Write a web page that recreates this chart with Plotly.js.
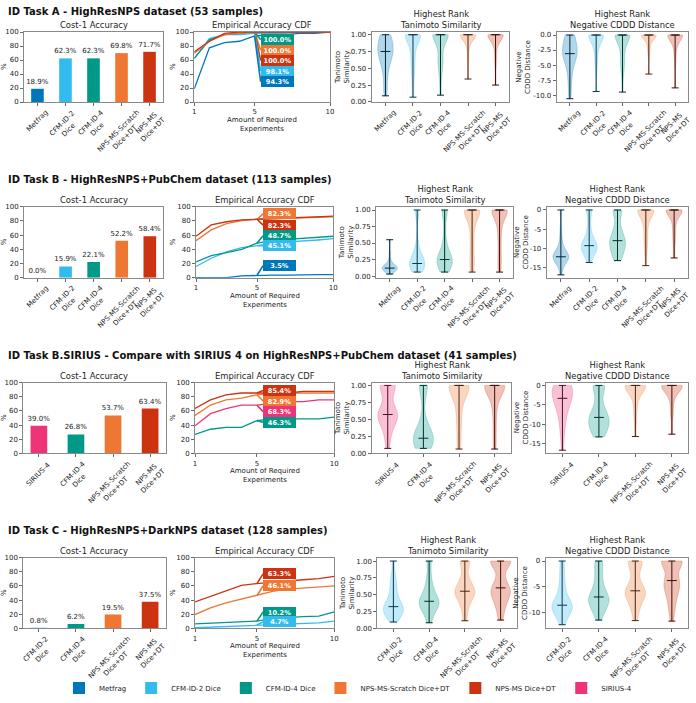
<!DOCTYPE html>
<html><head><meta charset="utf-8">
<script src="https://cdn.plot.ly/plotly-3.0.1.min.js"></script>
<style>html,body{margin:0;padding:0;background:#fff;}#chart{width:696px;height:703px;}</style>
</head><body><div id="chart"></div>
<script>
// ---------------- DATA ----------------
const methodNames = ['Metfrag','CFM-ID-2 Dice','CFM-ID-4 Dice','NPS-MS-Scratch Dice+DT','NPS-MS Dice+DT','SIRIUS-4'];
const methodTicks = ['Metfrag','CFM-ID-2<br>Dice','CFM-ID-4<br>Dice','NPS-MS-Scratch<br>Dice+DT','NPS-MS<br>Dice+DT','SIRIUS-4'];
const methodColors = ['#0077BB','#33BBEE','#009988','#EE7733','#CC3311','#EE3377'];

const titleA = 'ID Task A - HighResNPS dataset (53 samples)';
const titleB = 'ID Task B - HighResNPS+PubChem dataset (113 samples)';
const titleS = 'ID Task B.SIRIUS - Compare with SIRIUS 4 on HighResNPS+PubChem dataset (41 samples)';
const titleC = 'ID Task C - HighResNPS+DarkNPS dataset (128 samples)';
const sampleCounts = [53, 113, 41, 128];

const catsA = ['Metfrag','CFM-ID-2 Dice','CFM-ID-4 Dice','NPS-MS-Scratch Dice+DT','NPS-MS Dice+DT'];
const catsB = ['Metfrag','CFM-ID-2 Dice','CFM-ID-4 Dice','NPS-MS-Scratch Dice+DT','NPS-MS Dice+DT'];
const catsS = ['SIRIUS-4','CFM-ID-4 Dice','NPS-MS-Scratch Dice+DT','NPS-MS Dice+DT'];
const catsC = ['CFM-ID-2 Dice','CFM-ID-4 Dice','NPS-MS-Scratch Dice+DT','NPS-MS Dice+DT'];

// Cost-1 accuracy (%)
const accA = [18.9, 62.3, 62.3, 69.8, 71.7];
const accB = [0.0, 15.9, 22.1, 52.2, 58.4];
const accS = [39.0, 26.8, 53.7, 63.4];
const accC = [0.8, 6.2, 19.5, 37.5];

// Empirical accuracy CDF (%), amount of required experiments 1..10
const cdfSteps = [1,2,3,4,5,6,7,8,9,10];
const cdfA_Metfrag = [18.9, 77.4, 84.9, 86.8, 94.3, 96.2, 96.2, 98.1, 98.1, 100];
const cdfA_CFM2    = [62.3, 90.6, 96.2, 96.2, 98.1, 98.1, 98.1, 100, 100, 100];
const cdfA_CFM4    = [62.3, 88.7, 96.2, 98.1, 100, 100, 100, 100, 100, 100];
const cdfA_Scratch = [69.8, 86.8, 96.2, 98.1, 100, 100, 100, 100, 100, 100];
const cdfA_NPS     = [71.7, 86.8, 98.1, 100, 100, 100, 100, 100, 100, 100];

const cdfB_Metfrag = [0.0, 0.0, 0.0, 2.7, 3.5, 3.5, 3.5, 4.4, 4.4, 4.4];
const cdfB_CFM2    = [15.9, 27.4, 36.3, 42.5, 45.1, 48.7, 50.4, 51.3, 53.1, 54.9];
const cdfB_CFM4    = [22.1, 31.0, 35.4, 39.8, 48.7, 52.2, 54.0, 55.8, 57.5, 58.4];
const cdfB_Scratch = [52.2, 67.3, 76.1, 80.5, 82.3, 83.2, 83.2, 84.1, 85.0, 85.8];
const cdfB_NPS     = [58.4, 74.3, 78.8, 81.4, 82.3, 83.2, 84.1, 85.0, 85.8, 86.7];

const cdfS_SIRIUS  = [39.0, 56.1, 63.4, 68.3, 68.3, 70.7, 73.2, 73.2, 75.6, 75.6];
const cdfS_CFM4    = [26.8, 34.1, 36.6, 36.6, 46.3, 48.8, 48.8, 48.8, 48.8, 51.2];
const cdfS_Scratch = [53.7, 68.3, 75.6, 78.0, 82.9, 85.4, 85.4, 85.4, 85.4, 85.4];
const cdfS_NPS     = [63.4, 75.6, 82.9, 85.4, 85.4, 85.4, 85.4, 87.8, 87.8, 87.8];

const cdfC_CFM2    = [0.8, 1.6, 2.3, 3.9, 4.7, 5.5, 5.5, 6.2, 7.8, 10.2];
const cdfC_CFM4    = [6.2, 7.0, 7.8, 9.4, 10.2, 14.1, 15.6, 16.4, 17.2, 23.4];
const cdfC_Scratch = [19.5, 28.9, 35.9, 41.4, 46.1, 52.3, 55.5, 57.0, 58.6, 60.2];
const cdfC_NPS     = [37.5, 45.3, 53.9, 60.9, 63.3, 65.6, 67.2, 68.8, 70.3, 73.4];

// Highest-rank Tanimoto similarity (representative samples)
const tanA_Metfrag = [0.09,0.18,0.3,0.42,0.5,0.56,0.6,0.64,0.67,0.7,0.72,0.75,0.77,0.79,0.81,0.83,0.86,0.89,0.93,1,1,1,1];
const tanA_CFM2    = [0.07,0.3,0.45,0.55,0.62,0.7,0.8,1,1,1,1,1,1,1,1,1,1,1,1,1];
const tanA_CFM4    = [0.1,0.35,0.5,0.55,0.6,0.65,0.72,0.85,1,1,1,1,1,1,1,1,1,1,1,1,1];
const tanA_Scratch = [0.34,0.6,0.75,0.85,0.9,1,1,1,1,1,1,1,1,1,1,1,1,1,1];
const tanA_NPS     = [0.25,0.55,0.7,0.8,0.9,1,1,1,1,1,1,1,1,1,1,1,1,1,1];

const tanB_Metfrag = [0.03,0.06,0.08,0.09,0.1,0.1,0.11,0.11,0.12,0.12,0.12,0.13,0.13,0.14,0.15,0.16,0.18,0.2,0.25,0.35,0.55];
const tanB_CFM2    = [0.06,0.09,0.11,0.13,0.14,0.15,0.16,0.17,0.18,0.18,0.19,0.19,0.19,0.2,0.22,0.24,0.27,0.3,0.35,0.42,0.55,1,1,1,1];
const tanB_CFM4    = [0.06,0.1,0.13,0.15,0.17,0.19,0.2,0.21,0.22,0.23,0.24,0.25,0.25,0.27,0.3,0.33,0.37,0.45,0.55,0.7,1,1,1,1,1];
const tanB_Scratch = [0.06,0.12,0.18,0.25,0.35,0.45,0.55,0.65,0.75,0.85,0.9,1,1,1,1,1,1,1,1,1,1,1,1];
const tanB_NPS     = [0.06,0.15,0.25,0.35,0.5,0.6,0.7,0.8,0.9,1,1,1,1,1,1,1,1,1,1,1,1];

const tanS_SIRIUS  = [0.07,0.2,0.3,0.4,0.45,0.5,0.53,0.55,0.56,0.57,0.57,0.57,0.6,0.65,0.7,1,1,1,1,1,1,1,1];
const tanS_CFM4    = [0.07,0.1,0.12,0.14,0.16,0.18,0.19,0.2,0.21,0.21,0.22,0.22,0.24,0.27,0.3,0.38,0.5,1,1,1,1,1,1];
const tanS_Scratch = [0.06,0.15,0.3,0.45,0.55,0.65,0.75,0.85,0.9,1,1,1,1,1,1,1,1,1,1,1];
const tanS_NPS     = [0.06,0.2,0.4,0.55,0.7,0.8,0.9,1,1,1,1,1,1,1,1,1,1,1,1];

const tanC_CFM2    = [0.09,0.13,0.16,0.18,0.2,0.22,0.24,0.26,0.27,0.29,0.3,0.31,0.32,0.34,0.37,0.4,0.43,0.47,0.52,0.57,0.62,0.68,0.75,0.82,1];
const tanC_CFM4    = [0.08,0.15,0.2,0.24,0.27,0.3,0.32,0.34,0.36,0.37,0.38,0.39,0.4,0.42,0.45,0.48,0.5,0.53,0.57,0.62,0.68,0.75,0.85,1,1];
const tanC_Scratch = [0.11,0.2,0.28,0.35,0.4,0.43,0.46,0.49,0.51,0.53,0.54,0.55,0.55,0.57,0.6,0.63,0.66,0.7,0.75,0.82,1,1,1,1,1];
const tanC_NPS     = [0.12,0.22,0.3,0.36,0.41,0.45,0.48,0.51,0.54,0.56,0.58,0.59,0.6,0.65,0.72,0.8,1,1,1,1,1,1,1,1,1];

// Highest-rank negative CDDD distance (representative samples)
const cdddA_Metfrag = [-10.6,-9,-7.5,-6.5,-5.5,-4.8,-4.3,-3.9,-3.6,-3.4,-3.2,-3.1,-2.8,-2.5,-2.2,-1.9,-1.6,-1.3,-0.9,0,0,0,0];
const cdddA_CFM2    = [-9.4,-6,-4.5,-3.5,-2.5,-1.8,-1.2,0,0,0,0,0,0,0,0,0,0,0,0,0];
const cdddA_CFM4    = [-9.5,-6.5,-5.5,-4.8,-4,-3.2,-2.4,-1.5,0,0,0,0,0,0,0,0,0,0,0,0,0];
const cdddA_Scratch = [-6.5,-3.5,-2.5,-1.8,-1,0,0,0,0,0,0,0,0,0,0,0,0,0,0];
const cdddA_NPS     = [-8.8,-4.5,-3,-2,-1,0,0,0,0,0,0,0,0,0,0,0,0,0,0];

const cdddB_Metfrag = [-16.9,-15,-14,-13.5,-13,-12.8,-12.6,-12.4,-12.3,-12.2,-12.2,-12,-11.8,-11.5,-11.2,-10.8,-10,-9,-7.5,-5,0];
const cdddB_CFM2    = [-13.7,-12.5,-12,-11.5,-11,-10.6,-10.2,-10,-9.8,-9.6,-9.5,-9.4,-9.3,-9,-8.6,-8.2,-7.6,-7,-6,-4.5,-3,0,0,0,0];
const cdddB_CFM4    = [-13.2,-12.5,-12,-11.5,-11,-10.5,-10,-9.5,-9,-8.6,-8.3,-8.1,-8,-7.5,-7,-6.5,-5.8,-5,-4,-2.5,0,0,0,0,0];
const cdddB_Scratch = [-14.5,-11,-9,-7.5,-6,-4.5,-3,-2,-1,0,0,0,0,0,0,0,0,0,0];
const cdddB_NPS     = [-12.5,-9,-7,-5,-3.5,-2,-1,0,0,0,0,0,0,0,0,0,0];

const cdddS_SIRIUS  = [-16.6,-13,-11,-9.5,-8,-7,-6,-5,-4.5,-4,-3.6,-3.3,-3,-2.5,-2,-1.5,0,0,0,0,0,0,0];
const cdddS_CFM4    = [-13.2,-12.6,-12,-11.5,-11,-10.5,-10,-9.5,-9,-8.7,-8.4,-8.2,-7.8,-7.2,-6.5,-5.5,-4,0,0,0,0,0,0];
const cdddS_Scratch = [-13.1,-9,-7,-5,-3.5,-2.5,-1.5,-1,-0.5,0,0,0,0,0,0,0,0,0,0,0];
const cdddS_NPS     = [-12.5,-8,-6,-4,-2.5,-1.5,-0.7,0,0,0,0,0,0,0,0,0,0,0,0];

const cdddC_CFM2    = [-12.4,-11.5,-11,-10.6,-10.2,-9.9,-9.6,-9.3,-9.1,-8.9,-8.8,-8.7,-8.6,-8.3,-8,-7.6,-7.2,-6.7,-6,-5.2,-4.3,-3.3,-2.2,-1,0];
const cdddC_CFM4    = [-11.5,-10.5,-10,-9.5,-9.1,-8.7,-8.4,-8.1,-7.8,-7.6,-7.4,-7.2,-7,-6.7,-6.3,-5.9,-5.4,-4.8,-4,-3.2,-2.4,-1.5,-0.6,0,0];
const cdddC_Scratch = [-11.6,-10.2,-9.3,-8.6,-8,-7.5,-7.1,-6.7,-6.4,-6.2,-6,-5.9,-5.8,-5.5,-5,-4.4,-3.6,-2.6,-1.5,-0.5,0,0,0,0,0];
const cdddC_NPS     = [-11.7,-10,-9,-8,-7.2,-6.5,-6,-5.5,-5,-4.6,-4.3,-4,-3.8,-3.2,-2.4,-1.5,0,0,0,0,0,0,0,0,0];

// which series each CDF callout refers to (top to bottom)
const calloutA = ['CFM-ID-4 Dice','NPS-MS-Scratch Dice+DT','NPS-MS Dice+DT','CFM-ID-2 Dice','Metfrag'];
const calloutB = ['NPS-MS-Scratch Dice+DT','NPS-MS Dice+DT','CFM-ID-4 Dice','CFM-ID-2 Dice','Metfrag'];
const calloutS = ['NPS-MS Dice+DT','NPS-MS-Scratch Dice+DT','SIRIUS-4','CFM-ID-4 Dice'];
const calloutC = ['NPS-MS Dice+DT','NPS-MS-Scratch Dice+DT','CFM-ID-4 Dice','CFM-ID-2 Dice'];

// ---------------- LAYOUT / BUILD ----------------
const W = 696, H = 703, FONT = 'DejaVu Sans';
const fx = p => p / W, fy = p => 1 - p / H;
const colorOf = m => methodColors[methodNames.indexOf(m)];
const tickOf = m => methodTicks[methodNames.indexOf(m)];
function rgb(h){const n=parseInt(h.slice(1),16);return [(n>>16)&255,(n>>8)&255,n&255];}
function rgba(h,a){const c=rgb(h);return `rgba(${c[0]},${c[1]},${c[2]},${a})`;}
function darkOf(h){const c=rgb(h).map(v=>Math.round(v*0.3));return `rgb(${c[0]},${c[1]},${c[2]})`;}
function median(a){const s=[...a].sort((x,y)=>x-y),m=s.length;return m%2?s[(m-1)/2]:(s[m/2-1]+s[m/2])/2;}
function stdev(a){const m=a.reduce((p,v)=>p+v,0)/a.length;return Math.sqrt(a.reduce((p,v)=>p+(v-m)*(v-m),0)/(a.length-1));}
const fmtTick = (v, d) => (v < 0 ? '-' : '') + Math.abs(v).toFixed(d);

const rows = [
  {title:titleA, n:sampleCounts[0], cats:catsA, acc:accA,
   cdf:[cdfA_Metfrag,cdfA_CFM2,cdfA_CFM4,cdfA_Scratch,cdfA_NPS], callout:calloutA, calloutY:[89,74,59,44,29],
   tan:[tanA_Metfrag,tanA_CFM2,tanA_CFM4,tanA_Scratch,tanA_NPS], cddd:[cdddA_Metfrag,cdddA_CFM2,cdddA_CFM4,cdddA_Scratch,cdddA_NPS],
   top:32, bottom:102, titleY:11, cols:[[24,163],[194.3,330],[371.7,509.3],[556.7,688.3]],
   tanTX:342, cdddTX:523, tanRange:[-0.002,1.04], cdddRange:[-11.15,0.5], cdddTicks:[0,-2.5,-5,-7.5,-10], cdddDec:1},
  {title:titleB, n:sampleCounts[1], cats:catsB, acc:accB,
   cdf:[cdfB_Metfrag,cdfB_CFM2,cdfB_CFM4,cdfB_Scratch,cdfB_NPS], callout:calloutB, calloutY:[90,74,59,45,17],
   tan:[tanB_Metfrag,tanB_CFM2,tanB_CFM4,tanB_Scratch,tanB_NPS], cddd:[cdddB_Metfrag,cdddB_CFM2,cdddB_CFM4,cdddB_Scratch,cdddB_NPS],
   top:206.7, bottom:277.7, titleY:180, cols:[[24,163.3],[196,333.3],[376,513.3],[546.7,688.3]],
   tanTX:346, cdddTX:521, tanRange:[-0.025,1.05], cdddRange:[-17.65,0.85], cdddTicks:[0,-5,-10,-15], cdddDec:0},
  {title:titleS, n:sampleCounts[2], cats:catsS, acc:accS,
   cdf:[cdfS_SIRIUS,cdfS_CFM4,cdfS_Scratch,cdfS_NPS], callout:calloutS, calloutY:[89,74,59,44],
   tan:[tanS_SIRIUS,tanS_CFM4,tanS_Scratch,tanS_NPS], cddd:[cdddS_SIRIUS,cdddS_CFM4,cdddS_Scratch,cdddS_NPS],
   top:382.7, bottom:453.3, titleY:355, cols:[[23.3,165.7],[195,334.3],[371.7,510.7],[546,688.3]],
   tanTX:342, cdddTX:520.5, tanRange:[-0.003,1.04], cdddRange:[-17.4,0.7], cdddTicks:[0,-5,-10,-15], cdddDec:0},
  {title:titleC, n:sampleCounts[3], cats:catsC, acc:accC,
   cdf:[cdfC_CFM2,cdfC_CFM4,cdfC_Scratch,cdfC_NPS], callout:calloutC, calloutY:[77,60,23,9],
   tan:[tanC_CFM2,tanC_CFM4,tanC_Scratch,tanC_NPS], cddd:[cdddC_CFM2,cdddC_CFM4,cdddC_Scratch,cdddC_NPS],
   top:557.7, bottom:628.3, titleY:530.7, cols:[[23.3,165.7],[195,334.3],[377.3,516.7],[545.7,688.3]],
   tanTX:347, cdddTX:520, tanRange:[-0.003,1.05], cdddRange:[-13.1,0.65], cdddTicks:[0,-5,-10], cdddDec:0}
];

const tickFont = {family:FONT, size:7, color:'#222'};
const axCommon = {showline:true, mirror:true, linecolor:'#8a8a8a', linewidth:1, ticks:'outside', ticklen:3,
  tickwidth:0.8, tickcolor:'#444', showgrid:false, zeroline:false, tickfont:tickFont, fixedrange:true};

const traces = [], annotations = [];
const layout = {width:W, height:H, margin:{l:0,r:0,t:0,b:0}, paper_bgcolor:'#fff', plot_bgcolor:'#fff',
  barmode:'overlay', violinmode:'overlay', showlegend:true, hovermode:false,
  legend:{orientation:'h', x:0.5, xanchor:'center', y:fy(688), yanchor:'middle', font:{family:FONT,size:7,color:'#222'},
    itemwidth:30, bgcolor:'rgba(0,0,0,0)', tracegroupgap:0}};
const legendSeen = {};

function catTickLabels(cats, xid, yid){
  cats.forEach(cat => annotations.push({text:tickOf(cat), x:cat, xref:xid, y:0, yref:yid+' domain',
    xanchor:'center', yanchor:'top', yshift:-4, textangle:-45, showarrow:false, align:'center', font:tickFont}));
}
function subTitle(text, xid, yid){
  annotations.push({text:text, x:0.5, xref:xid+' domain', y:1, yref:yid+' domain', xanchor:'center', yanchor:'bottom',
    yshift:0, showarrow:false, font:{family:FONT,size:8.4,color:'#222'}});
}
function yTitle(text, px, yid){
  annotations.push({text:text, x:fx(px), xref:'paper', y:0.5, yref:yid+' domain', xanchor:'center', yanchor:'middle',
    textangle:-90, showarrow:false, font:{family:FONT,size:7,color:'#222'}});
}

rows.forEach((r, ri) => {
  const ids = [0,1,2,3].map(c => { const k = ri*4+c; return k === 0 ? '' : String(k+1); });
  const ncat = r.cats.length;
  ids.forEach((id, c) => {
    layout['xaxis'+id] = Object.assign({}, axCommon, {domain:[fx(r.cols[c][0]), fx(r.cols[c][1])], anchor:'y'+id});
    layout['yaxis'+id] = Object.assign({}, axCommon, {domain:[fy(r.bottom), fy(r.top)], anchor:'x'+id});
  });
  annotations.push({text:'<b>'+r.title+'</b>', x:fx(6), xref:'paper', y:fy(r.titleY), yref:'paper', xanchor:'left',
    yanchor:'middle', showarrow:false, font:{family:FONT,size:10,color:'#111'}});

  // --- bar chart ---
  const bx = 'x'+ids[0], by = 'y'+ids[0];
  const bm = ncat === 5 ? 0.48 : 0.42;
  Object.assign(layout['xaxis'+ids[0]], {type:'category', categoryarray:r.cats, range:[-bm, ncat-1+bm], showticklabels:false});
  Object.assign(layout['yaxis'+ids[0]], {range:[0,100], tickvals:[0,20,40,60,80,100]});
  r.cats.forEach((cat, i) => {
    traces.push({type:'bar', x:[cat], y:[r.acc[i]], width:0.45, xaxis:bx, yaxis:by, name:cat,
      marker:{color:colorOf(cat), line:{width:0}}, text:[r.acc[i].toFixed(1)+'%'], textposition:'outside',
      textfont:{family:FONT,size:7,color:'#222'}, constraintext:'none', cliponaxis:false,
      showlegend:!legendSeen[cat]});
    legendSeen[cat] = true;
  });
  catTickLabels(r.cats, bx, by);
  subTitle('Cost-1 Accuracy', bx, by);
  yTitle('%', 4, by);

  // --- CDF ---
  const cx = 'x'+ids[1], cy = 'y'+ids[1];
  Object.assign(layout['xaxis'+ids[1]], {range:[1,10], tickvals:[1,5,10]});
  Object.assign(layout['yaxis'+ids[1]], {range:[0,100], tickvals:[0,20,40,60,80,100]});
  r.cats.forEach((cat, i) => {
    traces.push({type:'scatter', mode:'lines', x:cdfSteps, y:r.cdf[i], xaxis:cx, yaxis:cy,
      line:{color:colorOf(cat), width:1.3}, showlegend:false, cliponaxis:false});
  });
  r.callout.forEach((cat, j) => {
    const i = r.cats.indexOf(cat);
    const v = r.cdf[i][cdfSteps.indexOf(5)];
    annotations.push({text:'<b>'+v.toFixed(1)+'%</b>', x:5, y:v, xref:cx, yref:cy, ax:5.4, ay:r.calloutY[j],
      axref:cx, ayref:cy, xanchor:'left', yanchor:'middle', showarrow:true, arrowhead:0, arrowwidth:1.6,
      arrowcolor:colorOf(cat), standoff:0, bgcolor:colorOf(cat), bordercolor:colorOf(cat), borderwidth:1,
      borderpad:0.5, width:30, height:8, align:'center', font:{family:FONT,size:6.6,color:'#fff'}});
  });
  subTitle('Empirical Accuracy CDF', cx, cy);
  yTitle('%', 173, cy);
  annotations.push({text:'Amount of Required<br>Experiments', x:0.5, xref:cx+' domain', y:0, yref:cy+' domain',
    xanchor:'center', yanchor:'top', yshift:-12, showarrow:false, font:{family:FONT,size:7,color:'#222'}});

  // --- violins ---
  const vm = ncat === 5 ? 0.5 : 0.45;
  [[2, r.tan, 'Highest Rank<br>Tanimoto Similarity', 'Tanimoto<br>Similarity', r.tanTX],
   [3, r.cddd, 'Highest Rank<br>Negative CDDD Distance', 'Negative<br>CDDD Distance', r.cdddTX]].forEach(([c, sets, ttl, ylab, ytx]) => {
    const vx = 'x'+ids[c], vy = 'y'+ids[c];
    Object.assign(layout['xaxis'+ids[c]], {type:'category', categoryarray:r.cats, range:[-vm, ncat-1+vm], showticklabels:false});
    if (c === 2) {
      const tv = [0,0.25,0.5,0.75,1];
      Object.assign(layout['yaxis'+ids[c]], {range:r.tanRange, tickvals:tv, ticktext:tv.map(v => fmtTick(v,2))});
    } else {
      Object.assign(layout['yaxis'+ids[c]], {range:r.cdddRange, tickvals:r.cdddTicks, ticktext:r.cdddTicks.map(v => fmtTick(v, r.cdddDec))});
    }
    r.cats.forEach((cat, i) => {
      const vals = sets[i], col = colorOf(cat);
      const bw = stdev(vals) * Math.pow(r.n, -0.2);
      traces.push({type:'violin', x:vals.map(() => cat), y:vals, xaxis:vx, yaxis:vy, name:cat, width:0.56,
        scalemode:'width', spanmode:'hard', bandwidth:bw, points:false, box:{visible:false}, meanline:{visible:false},
        fillcolor:rgba(col,0.3), line:{color:rgba(col,0.35), width:0.7}, showlegend:false, hoverinfo:'skip'});
    });
    r.cats.forEach((cat, i) => {
      const vals = sets[i], dk = darkOf(colorOf(cat));
      const mn = Math.min(...vals), mx = Math.max(...vals), md = median(vals);
      traces.push({type:'scatter', mode:'markers', x:[cat], y:[md], xaxis:vx, yaxis:vy, showlegend:false, hoverinfo:'skip',
        cliponaxis:false, marker:{symbol:'line-ew', size:7, color:dk, line:{width:1, color:dk}},
        error_y:{type:'data', symmetric:false, array:[mx-md], arrayminus:[md-mn], width:3.5, thickness:1, color:dk}});
    });
    catTickLabels(r.cats, vx, vy);
    subTitle(ttl, vx, vy);
    yTitle(ylab, ytx, vy);
  });
});

layout.annotations = annotations;
Plotly.newPlot('chart', traces, layout, {staticPlot:true, displayModeBar:false});
</script>
</body></html>
